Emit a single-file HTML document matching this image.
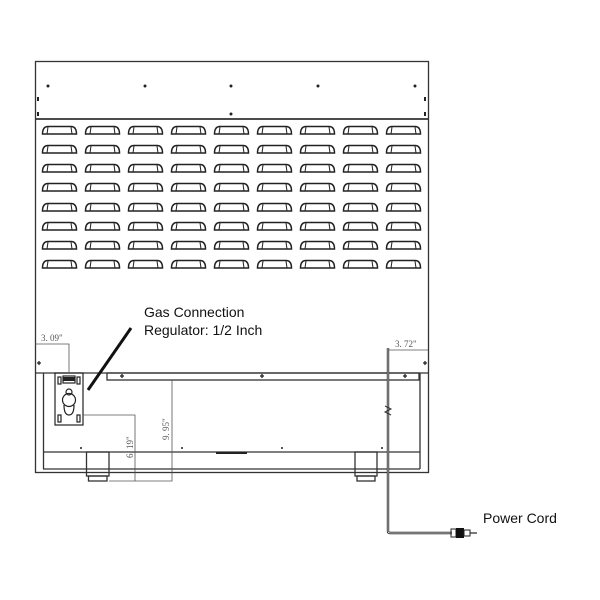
<!DOCTYPE html>
<html><head><style>body{margin:0;background:#fff}svg{display:block}</style></head><body>
<svg width="600" height="600" viewBox="0 0 600 600" xmlns="http://www.w3.org/2000/svg">
<defs>
<g id="lv"><path d="M0.5,9 Q0.5,1.5 6,1.5 H29 Q34.5,1.5 34.5,9 Z" fill="none" stroke="#222" stroke-width="1.5"/><line x1="6" y1="2" x2="5" y2="9" stroke="#222" stroke-width="1"/><line x1="29" y1="2" x2="30" y2="9" stroke="#222" stroke-width="1"/></g>
<g id="row"><use href="#lv" x="0"/><use href="#lv" x="43"/><use href="#lv" x="86"/><use href="#lv" x="129"/><use href="#lv" x="172"/><use href="#lv" x="215"/><use href="#lv" x="258"/><use href="#lv" x="301"/><use href="#lv" x="344"/></g>
</defs>
<g fill="none" stroke="#333" stroke-width="1.3">
<rect x="35.5" y="61.5" width="393" height="411"/>
<line x1="35" y1="119" x2="429" y2="119" stroke-width="1.8"/>
<line x1="35" y1="373" x2="429" y2="373"/>
<line x1="43.5" y1="373" x2="43.5" y2="469"/>
<line x1="420" y1="373" x2="420" y2="469"/>
<rect x="107" y="373" width="312" height="7"/>
<line x1="43" y1="452" x2="420" y2="452"/>
<line x1="43" y1="469" x2="420" y2="469"/>
<rect x="86.5" y="452" width="22.5" height="24"/>
<rect x="88.5" y="476" width="18.5" height="5"/>
<rect x="355" y="452" width="22" height="24"/>
<rect x="357" y="476" width="18" height="5"/>
</g>
<g fill="#222">
<circle cx="48" cy="86" r="1.5"/><circle cx="145" cy="86" r="1.5"/><circle cx="231" cy="86" r="1.5"/><circle cx="318" cy="86" r="1.5"/><circle cx="415" cy="86" r="1.5"/>
<circle cx="231" cy="114" r="1.5"/>
<rect x="37" y="97" width="2" height="4"/><rect x="37" y="112" width="2" height="4"/><rect x="424" y="97" width="2" height="4"/><rect x="424" y="112" width="2" height="4"/>
<circle cx="81" cy="448" r="1"/><circle cx="182" cy="448" r="1"/><circle cx="282" cy="448" r="1"/><circle cx="382" cy="448" r="1"/>
<rect x="216" y="452" width="31" height="2"/>
<path d="M120,376h4M122,374v4M260,376h4M262,374v4M403,376h4M405,374v4M37,363h4M39,361v4M423,363h4M425,361v4" stroke="#222" stroke-width="1.3"/>
</g>
<use href="#row" x="42" y="125"/><use href="#row" x="42" y="144"/><use href="#row" x="42" y="163"/><use href="#row" x="42" y="182"/><use href="#row" x="42" y="202"/><use href="#row" x="42" y="221"/><use href="#row" x="42" y="240"/><use href="#row" x="42" y="259"/>
<g fill="none" stroke="#222" stroke-width="1.2">
<rect x="55" y="373" width="28" height="52"/>
<rect x="58" y="377" width="3" height="7"/><rect x="77" y="377" width="3" height="7"/><rect x="58" y="415" width="3" height="7"/><rect x="77" y="415" width="3" height="7"/>
<rect x="63" y="376" width="12" height="7"/>
<circle cx="69" cy="392" r="3"/>
<circle cx="69" cy="400" r="6.5"/>
<path d="M64,405 Q64,415 69,415 Q74,415 74,405"/>
</g>
<rect x="63" y="377" width="12" height="4" fill="#222"/>
<g stroke="#555" stroke-width="0.8" fill="none">
<path d="M35,344H69V373"/>
<path d="M83,415H135V481M109,481H172V380"/>
<path d="M388,350H428"/>
</g>
<g font-family="Liberation Serif, serif" font-size="9" fill="#555">
<text x="41" y="341">3. 09"</text>
<text x="395" y="347">3. 72"</text>
<text transform="translate(133,458) rotate(-90)">6. 19"</text>
<text transform="translate(169,440) rotate(-90)">9. 95"</text>
</g>
<path d="M388,348V531Q388,533 390,533H452" fill="none" stroke="#222" stroke-width="2.4"/>
<path d="M388,348V531Q388,533 390,533H452" fill="none" stroke="#fff" stroke-width="0.7"/>
<path d="M385,406l6,3l-6,3l6,3" fill="none" stroke="#333" stroke-width="1"/>
<rect x="451" y="529" width="5" height="8" fill="none" stroke="#222"/>
<rect x="456" y="528" width="8" height="10" fill="#111"/>
<rect x="464" y="530" width="6" height="6" fill="none" stroke="#222"/>
<line x1="470" y1="533" x2="477" y2="533" stroke="#222" stroke-width="1.2"/>
<line x1="131" y1="328" x2="88" y2="390" stroke="#111" stroke-width="3"/>
<g font-family="Liberation Sans, sans-serif" font-size="14" fill="#111">
<text x="144" y="317">Gas Connection</text>
<text x="144" y="335">Regulator: 1/2 Inch</text>
<text x="483" y="523">Power Cord</text>
</g>
</svg>
</body></html>
